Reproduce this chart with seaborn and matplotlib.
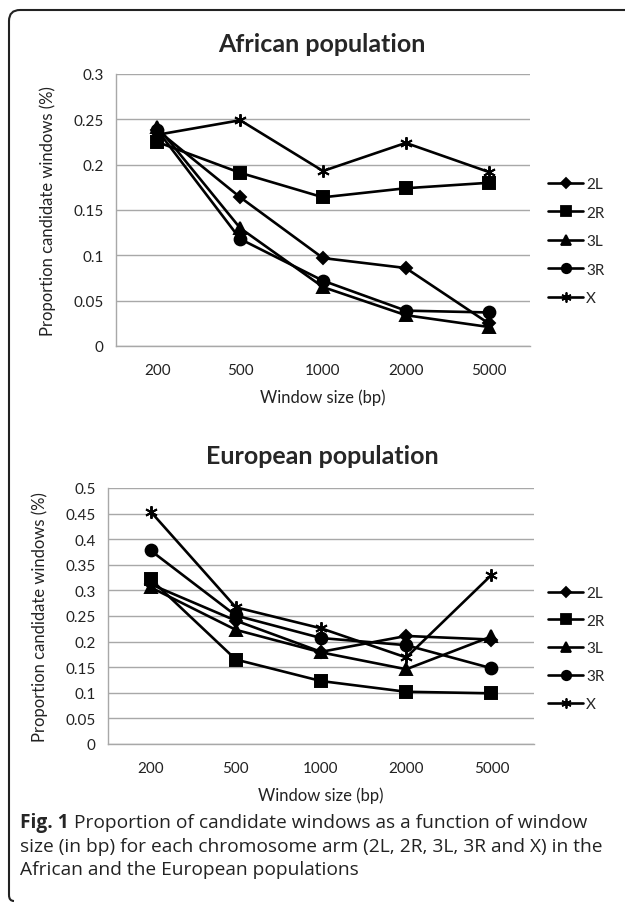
import pandas as pd
import seaborn as sns
from matplotlib import pyplot as plt
from matplotlib.path import Path
from matplotlib.patches import PathPatch
from matplotlib.lines import Line2D
from matplotlib.ticker import FuncFormatter

window_sizes = ['200', '500', '1000', '2000', '5000']
arms = ['2L', '2R', '3L', '3R', 'X']

# African population, proportion of candidate windows
african_2L = [0.238, 0.164, 0.097, 0.086, 0.025]
african_2R = [0.225, 0.191, 0.164, 0.174, 0.180]
african_3L = [0.242, 0.130, 0.065, 0.034, 0.021]
african_3R = [0.238, 0.118, 0.072, 0.039, 0.037]
african_X = [0.233, 0.249, 0.193, 0.224, 0.192]

# European population
european_2L = [0.312, 0.241, 0.180, 0.211, 0.204]
european_2R = [0.322, 0.165, 0.123, 0.102, 0.099]
european_3L = [0.306, 0.223, 0.179, 0.146, 0.210]
european_3R = [0.378, 0.251, 0.207, 0.193, 0.148]
european_X = [0.454, 0.267, 0.226, 0.169, 0.330]

african = pd.DataFrame({'window': window_sizes * 5,
                        'arm': [a for a in arms for _ in window_sizes],
                        'value': african_2L + african_2R + african_3L + african_3R + african_X})
european = pd.DataFrame({'window': window_sizes * 5,
                         'arm': [a for a in arms for _ in window_sizes],
                         'value': european_2L + european_2R + european_3L + european_3R + european_X})

# excel-ish marker per arm
markers = {'2L': ('D', 6.5), '2R': ('s', 8.5), '3L': ('^', 8.5),
           '3R': ('o', 8.5), 'X': ((6, 2, 0), 9)}

sns.set_style('white')
plt.rcParams['font.family'] = ['Lato', 'DejaVu Sans']

W, H = 625, 904
fig = plt.figure(figsize=(W / 100, H / 100), dpi=100)

def px(x, y):
    return x / W, 1 - y / H

def draw(df, rect, ymax, step, title, title_y, ylab_x, xlab_y, legend_top, legend_gap):
    ax = fig.add_axes(rect)
    for arm in arms:
        m, ms = markers[arm]
        sns.lineplot(data=df[df['arm'] == arm], x='window', y='value', ax=ax, color='black',
                     lw=1.9, marker=m, markersize=ms, markeredgewidth=1.4, markeredgecolor='black',
                     markerfacecolor='black', sort=False, legend=False)
    ax.set_xlim(-0.5, 4.5)
    ax.set_ylim(0, ymax)
    ticks = [i * step for i in range(int(round(ymax / step)) + 1)]
    ax.set_yticks(ticks)
    ax.yaxis.set_major_formatter(FuncFormatter(lambda v, p: f'{v:g}'))
    ax.grid(axis='y', color='#a8a8a8', lw=1.0)
    ax.grid(axis='x', visible=False)
    for s in ['top', 'right']:
        ax.spines[s].set_visible(False)
    for s in ['left', 'bottom']:
        ax.spines[s].set_color('#a8a8a8')
        ax.spines[s].set_linewidth(1.0)
    ax.tick_params(axis='y', length=6, width=1, color='#a8a8a8', pad=3, labelsize=11, labelcolor='#222222')
    ax.tick_params(axis='x', length=0, pad=12, labelsize=11, labelcolor='#222222')
    ax.set_xlabel('Window size (bp)', fontsize=12, color='#222222')
    ax.set_ylabel('Proportion candidate windows (%)', fontsize=12, color='#222222')
    ax.yaxis.set_label_coords(ylab_x, 0.5)
    ax.xaxis.set_label_coords(0.5, xlab_y)
    fig.text(*px(322, title_y), title, ha='center', va='center', fontsize=18, fontweight='bold')
    handles = [Line2D([], [], color='black', lw=1.9, marker=markers[a][0], markersize=markers[a][1] * 0.8,
                      markeredgewidth=1.3, markerfacecolor='black') for a in arms]
    x0, y0 = px(548, legend_top)
    fig.legend(handles, arms, loc='upper left', bbox_to_anchor=(x0, y0), frameon=False,
               handlelength=2.3, handletextpad=0.2, labelspacing=legend_gap, fontsize=11,
               borderaxespad=0, borderpad=0)
    return ax

l, b = px(116, 347)
draw(african, [l, b, 414 / W, 272 / H], 0.3, 0.05, 'African population', 44, -0.145, -0.155, 178, 0.95)
l, b = px(108, 745)
draw(european, [l, b, 426 / W, 256 / H], 0.5, 0.05, 'European population', 457, -0.141, -0.165, 587, 0.9)

# caption
cap_font = ['Open Sans', 'DejaVu Sans']
t = fig.text(*px(20, 823), 'Fig. 1', ha='left', va='center', fontsize=13.8, fontweight='bold', family=cap_font)
fig.canvas.draw()
bb = t.get_window_extent()
fig.text((bb.x1 + 5) / W, 1 - 823 / H, 'Proportion of candidate windows as a function of window',
         ha='left', va='center', fontsize=13.8, family=cap_font, color='#222222')
fig.text(*px(20, 847), 'size (in bp) for each chromosome arm (2L, 2R, 3L, 3R and X) in the',
         ha='left', va='center', fontsize=13.8, family=cap_font, color='#222222')
fig.text(*px(20, 870), 'African and the European populations',
         ha='left', va='center', fontsize=13.8, family=cap_font, color='#222222')

# rounded frame on the left/top
verts = [px(9, 896), px(9, 902), px(14, 902), px(9, 896), px(9, 22), px(9, 11), px(20, 11), px(W + 2, 11)]
codes = [Path.MOVETO, Path.CURVE3, Path.CURVE3, Path.MOVETO, Path.LINETO, Path.CURVE3, Path.CURVE3, Path.LINETO]
fig.add_artist(PathPatch(Path(verts, codes), transform=fig.transFigure, fill=False, lw=1.5, edgecolor='#222222'))

fig.savefig('out.png', dpi=100)
